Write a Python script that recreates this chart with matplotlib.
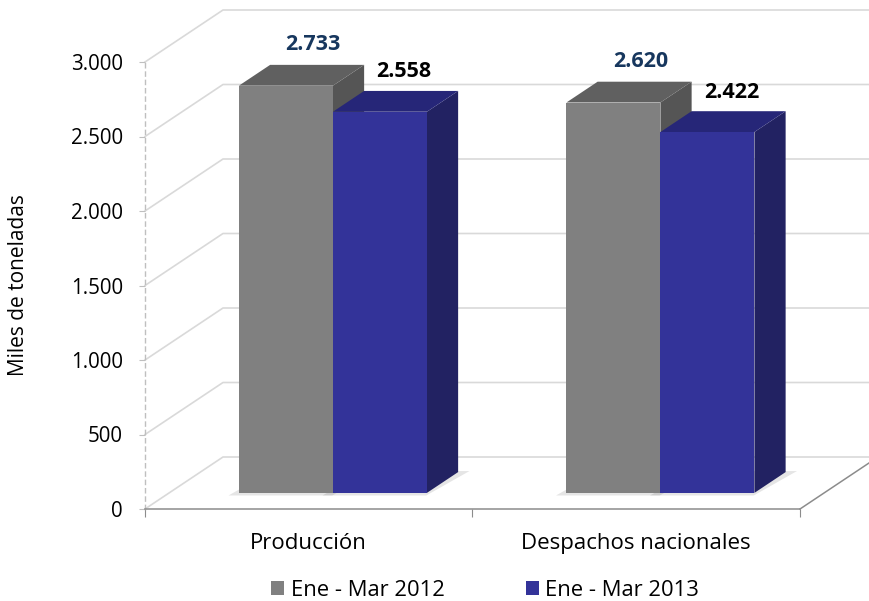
import matplotlib
matplotlib.use("Agg")
import matplotlib.pyplot as plt
from matplotlib.patches import Polygon, Patch
from matplotlib.ticker import FuncFormatter

plt.rcParams['font.family'] = ['Open Sans', 'DejaVu Sans']

categories = ["Producción", "Despachos nacionales"]
series_names = ["Ene - Mar 2012", "Ene - Mar 2013"]
values_2012 = [2733, 2620]
values_2013 = [2558, 2422]
yticks = [0, 500, 1000, 1500, 2000, 2500, 3000]

W, H = 870, 601
fig = plt.figure(figsize=(W / 100, H / 100), dpi=100)
L, R, B, T = 145, 800, 509, 62
ax = fig.add_axes([L / W, 1 - B / H, (R - L) / W, (B - T) / H])
ax.set_xlim(0, 2)
ax.set_ylim(0, 3000)

# depth offsets (data units)
DX = 78 / (R - L) * 2
DY = 52 / (B - T) * 3000

def P(x, v, f):
    return (x + f * DX, v + f * DY)

grid_c = "#d9d9d9"
# left wall / back wall gridlines
for v in yticks:
    x0, y0 = P(0, v, 0)
    x1, y1 = P(0, v, 1)
    ax.plot([x0, x1, 2.3], [y0, y1, y1], color=grid_c, lw=1.2, clip_on=False, zorder=1)

# floor right edge
xa, ya = P(2, 0, 0)
xb, yb = P(2, 0, 1)
ax.plot([xa, xb], [ya, yb], color="#8c8c8c", lw=1.1, clip_on=False, zorder=2)

f0, f1 = 0.31, 0.71
bw = 94 / (R - L) * 2
styles = [
    dict(front="#808080", top="#606060", side="#555555", lab="#17375e"),
    dict(front="#333399", top="#262678", side="#222262", lab="#000000"),
]
series = [values_2012, values_2013]
label_dx = [-4, -7]
label_dy = [20, 19]

for i, c in enumerate([0.5, 1.5]):
    for s, vals in enumerate(series):
        v = vals[i]
        st = styles[s]
        xl = c - bw + s * bw
        xr = xl + bw
        # shadow
        sh = [P(xl - 0.02, 0, f0 - 0.05), P(xr + 0.01, 0, f0 - 0.05),
              P(xr + 0.03, 0, f1 + 0.02), P(xl, 0, f1 + 0.02)]
        ax.add_patch(Polygon(sh, closed=True, fc="#000000", alpha=0.10, ec="none",
                             clip_on=False, zorder=2))
        side = [P(xr, 0, f0), P(xr, 0, f1), P(xr, v, f1), P(xr, v, f0)]
        top = [P(xl, v, f0), P(xr, v, f0), P(xr, v, f1), P(xl, v, f1)]
        front = [P(xl, 0, f0), P(xr, 0, f0), P(xr, v, f0), P(xl, v, f0)]
        z = 3 + s
        ax.add_patch(Polygon(side, closed=True, fc=st["side"], ec="none", clip_on=False, zorder=z))
        ax.add_patch(Polygon(top, closed=True, fc=st["top"], ec="none", clip_on=False, zorder=z))
        ax.add_patch(Polygon(front, closed=True, fc=st["front"], ec="none", clip_on=False, zorder=z))
        tx, ty = P((xl + xr) / 2, v, f1)
        ax.annotate(f"{v:,}".replace(",", "."), (tx, ty), xytext=(label_dx[s], label_dy[s]),
                    textcoords="offset pixels", ha="center", va="center",
                    fontsize=15.5, fontweight="bold", color=st["lab"], zorder=10,
                    annotation_clip=False)

# spines
for sp in ["top", "right"]:
    ax.spines[sp].set_visible(False)
ax.spines["left"].set_color("#bfbfbf")
ax.spines["left"].set_linestyle((0, (3, 3)))
ax.spines["left"].set_linewidth(1.0)
ax.spines["bottom"].set_color("#8c8c8c")
ax.spines["bottom"].set_linewidth(1.1)
ax.patch.set_visible(False)

ax.set_yticks(yticks)
ax.yaxis.set_major_formatter(FuncFormatter(lambda v, p: f"{int(v):,}".replace(",", ".")))
ax.tick_params(axis="y", length=4, color="#bfbfbf", pad=12, labelsize=14.8, labelcolor="#000000")

ax.set_xticks([0, 1, 2])
ax.set_xticklabels(["", "", ""])
ax.set_xticks([0.5, 1.5], minor=True)
ax.set_xticklabels(categories, minor=True)
ax.tick_params(axis="x", which="major", length=6, color="#8c8c8c")
ax.tick_params(axis="x", which="minor", length=0, pad=17, labelsize=16)

fig.text(19 / W, 1 - 285 / H, "Miles de toneladas", rotation=90, ha="center", va="center",
         fontsize=15)

handles = [Patch(fc=styles[0]["front"], ec="none"), Patch(fc=styles[1]["front"], ec="none")]
fig.legend(handles, series_names, loc="center", bbox_to_anchor=(485 / W, 1 - 590 / H),
           ncol=2, frameon=False, fontsize=15.8, handlelength=0.6, handleheight=0.6,
           handletextpad=0.3, columnspacing=3.7)

fig.savefig("out.png", dpi=100)
